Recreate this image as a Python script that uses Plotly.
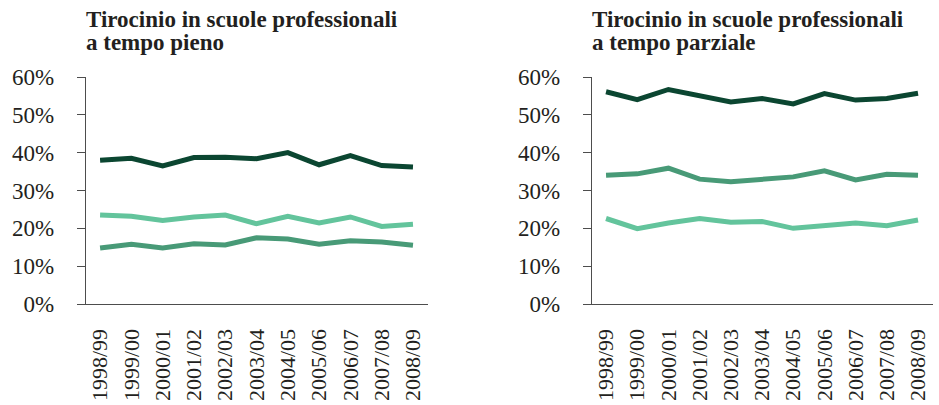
import plotly.graph_objects as go

# School years on the horizontal axis
anni = ["1998/99", "1999/00", "2000/01", "2001/02", "2002/03", "2003/04",
        "2004/05", "2005/06", "2006/07", "2007/08", "2008/09"]

# Full-time vocational schools (percent)
pieno_scuro = [38.0, 38.5, 36.5, 38.7, 38.8, 38.4, 40.0, 36.8, 39.2, 36.6, 36.2]
pieno_chiaro = [23.5, 23.2, 22.1, 23.0, 23.5, 21.2, 23.2, 21.4, 23.0, 20.5, 21.1]
pieno_medio = [14.8, 15.8, 14.8, 15.9, 15.6, 17.5, 17.2, 15.8, 16.7, 16.4, 15.5]

# Part-time vocational schools (percent)
parziale_scuro = [56.1, 54.0, 56.7, 55.2, 53.4, 54.3, 52.9, 55.6, 53.9, 54.3, 55.7]
parziale_medio = [34.0, 34.4, 35.9, 33.0, 32.3, 33.0, 33.6, 35.2, 32.8, 34.3, 34.0]
parziale_chiaro = [22.6, 19.9, 21.4, 22.6, 21.6, 21.8, 20.0, 20.8, 21.4, 20.7, 22.2]

# Two-line panel titles
titoli = [("Tirocinio in scuole professionali", "a tempo pieno"),
          ("Tirocinio in scuole professionali", "a tempo parziale")]

y_ticks = [0, 10, 20, 30, 40, 50, 60]
y_labels = ["0%", "10%", "20%", "30%", "40%", "50%", "60%"]

SCURO = "#0b4631"
MEDIO = "#489a77"
CHIARO = "#63c49c"
FONT = "Liberation Serif, Times New Roman, serif"
TESTO = "#231f20"
W, H = 939, 405

fig = go.Figure()

pannelli = [
    ("x", "y", [(pieno_scuro, SCURO), (pieno_chiaro, CHIARO), (pieno_medio, MEDIO)]),
    ("x2", "y2", [(parziale_scuro, SCURO), (parziale_medio, MEDIO), (parziale_chiaro, CHIARO)]),
]
for xa, ya, serie in pannelli:
    for valori, colore in serie:
        fig.add_trace(go.Scatter(
            x=anni, y=valori, xaxis=xa, yaxis=ya, mode="lines",
            line=dict(color=colore, width=5), showlegend=False, hoverinfo="skip",
        ))

y_dom = [(H - 304) / H, (H - 77) / H]
x_doms = [[86 / W, 428 / W], [592 / W, 933 / W]]

asse_x = dict(
    type="category", range=[-0.45, 10.48], showgrid=False, zeroline=False,
    showline=True, linecolor="#4d4d4d", linewidth=1.3, ticks="",
    tickangle=-90, ticklabelstandoff=15,
    tickfont=dict(family=FONT, size=22, color=TESTO), automargin=False,
)
asse_y = dict(
    range=[0, 60], tickvals=y_ticks, ticktext=y_labels, showgrid=False,
    zeroline=False, showline=True, linecolor="#4d4d4d", linewidth=1.3,
    ticks="outside", ticklen=8, tickcolor="#4d4d4d", tickwidth=1.3,
    ticklabelstandoff=18,
    tickfont=dict(family=FONT, size=23, color=TESTO), automargin=False,
)

fig.update_layout(
    width=W, height=H, margin=dict(l=0, r=0, t=0, b=0),
    paper_bgcolor="white", plot_bgcolor="white",
    xaxis=dict(asse_x, domain=x_doms[0], anchor="y"),
    yaxis=dict(asse_y, domain=y_dom, anchor="x"),
    xaxis2=dict(asse_x, domain=x_doms[1], anchor="y2"),
    yaxis2=dict(asse_y, domain=y_dom, anchor="x2"),
)

for i, righe in enumerate(titoli):
    for j, riga in enumerate(righe):
        fig.add_annotation(
            text="<b>" + riga + "</b>",
            xref="paper", yref="paper", x=x_doms[i][0], y=1 - (5 + 23 * j) / H,
            xanchor="left", yanchor="top", align="left", showarrow=False,
            font=dict(family=FONT, size=23, color=TESTO),
            xshift=-2,
        )

fig.write_html("out.html")
